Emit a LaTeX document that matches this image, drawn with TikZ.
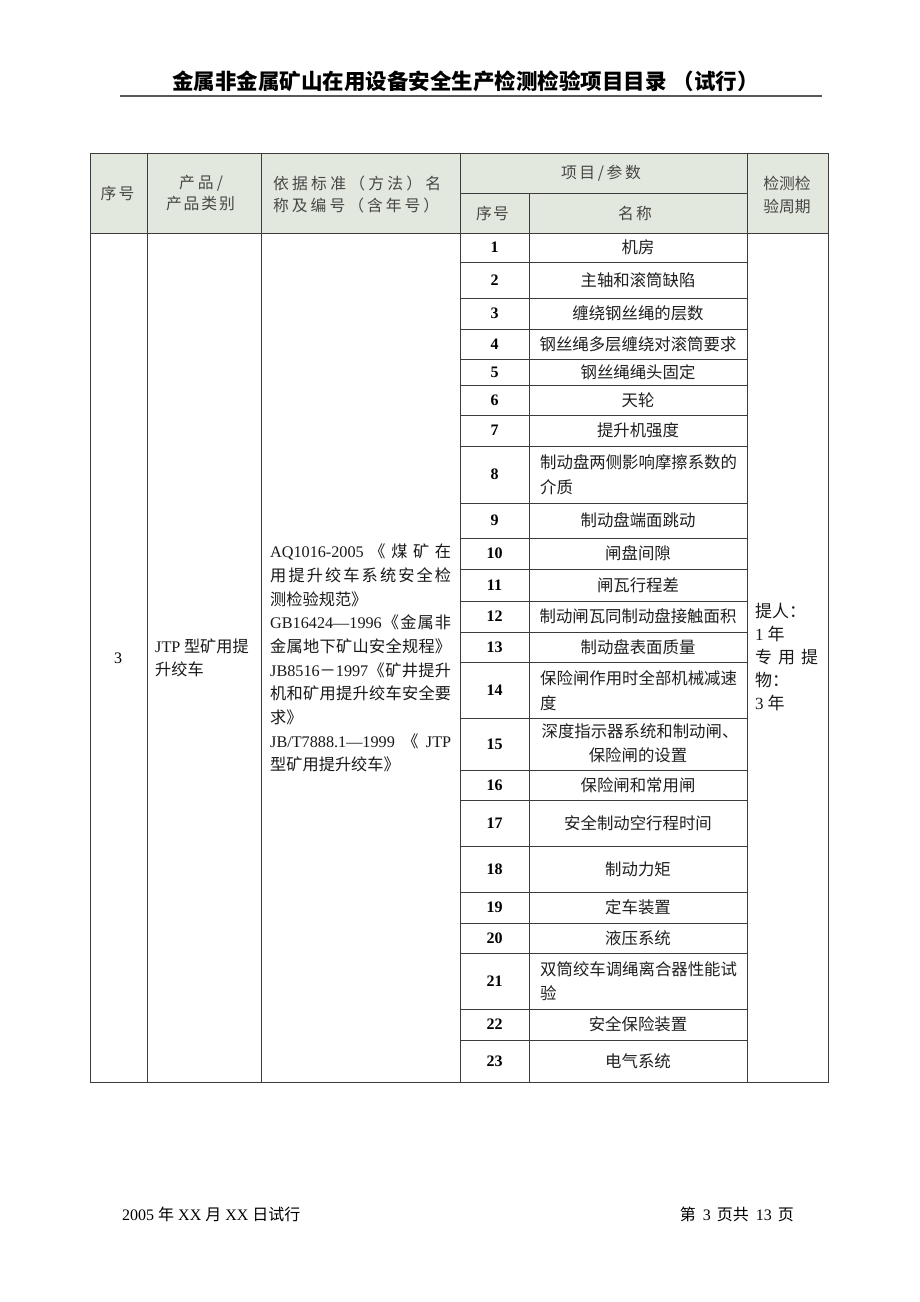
\documentclass[tikz,border=0pt]{standalone}
\usepackage{fontspec}
\setmainfont{Liberation Serif}
\newfontfamily\cjk{Noto Sans CJK SC}
\newfontfamily\tm{Liberation Serif}
\definecolor{hdfill}{RGB}{226,232,221}
\definecolor{gridc}{RGB}{60,60,60}
\tikzset{
  txt/.style={inner sep=0pt, font=\cjk\fontsize{16.4}{20}\selectfont, text=black!88},
  refl/.style={inner sep=0pt, anchor=west, font=\cjk\fontsize{16.2}{20}\selectfont, text=black!90},
  hd/.style={inner sep=0pt, font=\cjk\fontsize{15.8}{18}\selectfont, text=black!72},
  num/.style={inner sep=0pt, font=\tm\bfseries\fontsize{16}{20}\selectfont, text=black},
  per/.style={inner sep=0pt, anchor=west, font=\cjk\fontsize{17}{20}\selectfont, text=black!90},
  gridl/.style={draw=gridc, line width=0.9pt},
}
\begin{document}
\begin{tikzpicture}[x=1pt,y=-1pt]
\useasboundingbox (0,0) rectangle (920,1302);
\fill[white] (0,0) rectangle (920,1302);

% title
\node[anchor=west, inner sep=0pt, font=\cjk\bfseries\fontsize{21.5}{24}\selectfont] (title) at (172,81) {金属非金属矿山在用设备安全生产检测检验项目目录\hspace{6pt}（试行）};
\draw[black!65, line width=1.6pt] (120,96) -- (822,96);

% header fill
\fill[hdfill] (90,153) rectangle (828,233);

% grid
\draw[gridl] (90,153) rectangle (828,1082);
\draw[gridl] (147,153) -- (147,1082);
\draw[gridl] (261,153) -- (261,1082);
\draw[gridl] (460,153) -- (460,1082);
\draw[gridl] (747,153) -- (747,1082);
\draw[gridl] (529,193) -- (529,1082);
\draw[gridl] (460,193) -- (747,193);
\draw[gridl] (90,233) -- (828,233);
\foreach \y in {262,298,329,359,385,415,446,503,538,569,601,632,662,718,770,800,846,892,923,953,1009,1040}
  \draw[gridl] (460,\y) -- (747,\y);

% header texts
\node[hd] (h1) at (117.5,193) {\makebox[34pt][s]{序\hfill 号}};
\node[hd] (h2a) at (201,183) {\makebox[44pt][s]{产\hfill 品\hfill /}};
\node[hd] (h2b) at (200.5,204) {\makebox[69pt][s]{产\hfill 品\hfill 类\hfill 别}};
\node[hd, anchor=west] (h3a) at (273,183) {\makebox[168pt][s]{依\hfill 据\hfill 标\hfill 准\hfill （\hfill 方\hfill 法\hfill ）\hfill 名}};
\node[hd, anchor=west] (h3b) at (273,205) {\makebox[166pt][s]{称\hfill 及\hfill 编\hfill 号\hfill （\hfill 含\hfill 年\hfill 号\hfill ）}};
\node[hd] (h4) at (601,173) {\makebox[80pt][s]{项\hfill 目\hfill /\hfill 参\hfill 数}};
\node[hd] (h5) at (492.5,213) {\makebox[33pt][s]{序\hfill 号}};
\node[hd] (h6) at (635,213) {\makebox[34pt][s]{名\hfill 称}};
\node[hd] (h7a) at (787,183) {检测检};
\node[hd] (h7b) at (787,206) {验周期};

% column 1 and 2
\node[inner sep=0pt, font=\tm\fontsize{16}{20}\selectfont] (c1) at (118,658) {3};
\node[refl] (c2a) at (155,646) {{\tm JTP} 型矿用提};
\node[refl] (c2b) at (155,669) {升绞车};

% column 3 references
\node[refl] (r1) at (270,551.5) {\makebox[181pt][s]{{\tm AQ1016-2005}\hfill《\hfill 煤\hfill 矿\hfill 在}};
\node[refl] (r2) at (270,575.2) {\makebox[181pt][s]{用\hfill 提\hfill 升\hfill 绞\hfill 车\hfill 系\hfill 统\hfill 安\hfill 全\hfill 检}};
\node[refl] (r3) at (270,598.9) {测检验规范》};
\node[refl] (r4) at (270,622.6) {\makebox[181pt][s]{{\tm GB16424—1996}\hfill《\hfill 金\hfill 属\hfill 非}};
\node[refl] (r5) at (270,646.3) {\makebox[181pt][s]{金\hfill 属\hfill 地\hfill 下\hfill 矿\hfill 山\hfill 安\hfill 全\hfill 规\hfill 程\hfill 》}};
\node[refl] (r6) at (270,670) {\makebox[181pt][s]{{\tm JB8516}－{\tm 1997}\hfill《\hfill 矿\hfill 井\hfill 提\hfill 升}};
\node[refl] (r7) at (270,693.7) {\makebox[181pt][s]{机\hfill 和\hfill 矿\hfill 用\hfill 提\hfill 升\hfill 绞\hfill 车\hfill 安\hfill 全\hfill 要}};
\node[refl] (r8) at (270,717.4) {求》};
\node[refl] (r9) at (270,741.1) {\makebox[181pt][s]{{\tm JB/T7888.1—1999}\hfill《\hfill{\tm JTP}}};
\node[refl] (r10) at (270,764.8) {型矿用提升绞车》};

% items, single line
\foreach \i/\a/\b/\t in {
  1/233/262/机房,
  2/262/298/主轴和滚筒缺陷,
  3/298/329/缠绕钢丝绳的层数,
  4/329/359/钢丝绳多层缠绕对滚筒要求,
  5/359/385/钢丝绳绳头固定,
  6/385/415/天轮,
  7/415/446/提升机强度,
  9/503/538/制动盘端面跳动,
  10/538/569/闸盘间隙,
  11/569/601/闸瓦行程差,
  12/601/632/制动闸瓦同制动盘接触面积,
  13/632/662/制动盘表面质量,
  16/770/800/保险闸和常用闸,
  17/800/846/安全制动空行程时间,
  18/846/892/制动力矩,
  19/892/923/定车装置,
  20/923/953/液压系统,
  22/1009/1040/安全保险装置,
  23/1040/1082/电气系统}
{
  \node[num] (num\i) at (494.5,{(\a+\b)/2}) {\i};
  \node[txt] (name\i) at (638,{(\a+\b)/2}) {\t};
}

% items, two lines
\node[num] (num8) at (494.5,474.5) {8};
\node[txt, anchor=west] (name8a) at (540,462) {制动盘两侧影响摩擦系数的};
\node[txt, anchor=west] (name8b) at (540,487) {介质};
\node[num] (num14) at (494.5,690) {14};
\node[txt, anchor=west] (name14a) at (540,678) {保险闸作用时全部机械减速};
\node[txt, anchor=west] (name14b) at (540,703) {度};
\node[num] (num15) at (494.5,744) {15};
\node[txt] (name15a) at (640,731) {深度指示器系统和制动闸、};
\node[txt] (name15b) at (638,755) {保险闸的设置};
\node[num] (num21) at (494.5,981) {21};
\node[txt, anchor=west] (name21a) at (540,969) {双筒绞车调绳离合器性能试};
\node[txt, anchor=west] (name21b) at (540,993) {验};

% period column
\node[per] (p1) at (755,611) {提人：};
\node[per] (p2) at (755,634) {{\tm 1} 年};
\node[per] (p3) at (755,657) {\makebox[63pt][s]{专\hfill 用\hfill 提}};
\node[per] (p4) at (755,680) {物：};
\node[per] (p5) at (755,703) {{\tm 3} 年};

% footer
\node[anchor=west, inner sep=0pt, font=\tm\fontsize{16}{20}\selectfont] (foot1) at (122,1214) {2005 {\cjk 年} XX {\cjk 月} XX {\cjk 日试行}};
\node[anchor=east, inner sep=0pt, font=\tm\fontsize{16}{20}\selectfont] (foot2) at (794,1214) {{\cjk 第}\hspace{3pt} 3 \hspace{2pt}{\cjk 页共}\hspace{3pt} 13 \hspace{2pt}{\cjk 页}};
\end{tikzpicture}
\end{document}
